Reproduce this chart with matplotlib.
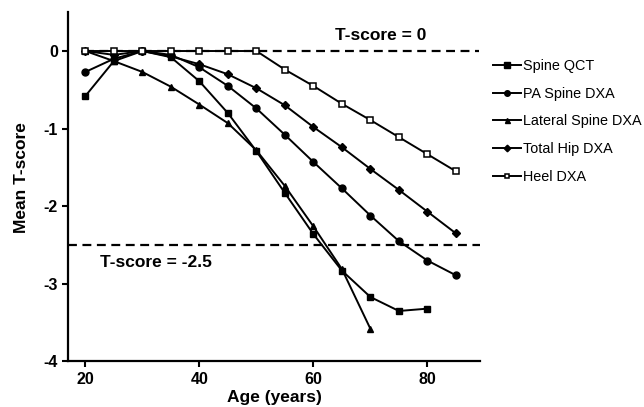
import numpy as np
import matplotlib.pyplot as plt

plt.rcParams['font.family'] = ['Liberation Sans', 'DejaVu Sans']

ages = [20, 25, 30, 35, 40, 45, 50, 55, 60, 65, 70, 75, 80, 85]

spine_qct = [-0.58, -0.13, 0.0, -0.08, -0.39, -0.80, -1.29, -1.83, -2.36, -2.83, -3.17, -3.35, -3.32]
pa_spine = [-0.27, -0.10, 0.0, -0.05, -0.21, -0.45, -0.74, -1.08, -1.43, -1.77, -2.12, -2.45, -2.70, -2.89]
lat_spine = [0.0, -0.13, -0.27, -0.46, -0.69, -0.93, -1.28, -1.74, -2.26, -2.81, -3.58]
total_hip = [0.0, -0.05, 0.0, -0.07, -0.17, -0.30, -0.48, -0.70, -0.98, -1.24, -1.52, -1.79, -2.07, -2.35]
heel = [0.0, 0.0, 0.0, 0.0, 0.0, 0.0, 0.0, -0.24, -0.45, -0.68, -0.89, -1.11, -1.33, -1.55]

fig = plt.figure(figsize=(6.44, 4.07), dpi=100)
ax = fig.add_axes([0.106, 0.112, 0.64, 0.858])

ax.hlines(0, 20, 89, colors='black', linestyles=(0, (4, 2.5)), linewidth=1.6, zorder=1)
ax.axhline(-2.5, color='black', linestyle=(0, (4, 2.5)), linewidth=1.6, zorder=1)

lw = 1.4
ax.plot(ages[:len(spine_qct)], spine_qct, color='black', linewidth=lw, marker='s', markersize=5,
        label='Spine QCT')
ax.plot(ages[:len(pa_spine)], pa_spine, color='black', linewidth=lw, marker='o', markersize=5,
        label='PA Spine DXA')
ax.plot(ages[:len(lat_spine)], lat_spine, color='black', linewidth=lw, marker='^', markersize=4.5,
        label='Lateral Spine DXA')
ax.plot(ages[:len(total_hip)], total_hip, color='black', linewidth=lw, marker='D', markersize=4.2,
        label='Total Hip DXA')
ax.plot(ages[:len(heel)], heel, color='black', linewidth=lw, marker='s', markersize=4.2,
        markerfacecolor='white', markeredgewidth=1.1, label='Heel DXA')

ax.text(71.8, 0.1, 'T-score = 0', fontsize=12.5, fontweight='bold', ha='center', va='bottom')
ax.text(22.6, -2.63, 'T-score = -2.5', fontsize=12.5, fontweight='bold', ha='left', va='top')

ax.set_xlim(17, 89.3)
ax.set_ylim(-4, 0.5)
ax.set_xticks([20, 40, 60, 80])
ax.set_yticks([0, -1, -2, -3, -4])
ax.set_yticklabels(['0', '-1', '-2', '-3', '-4'])
ax.tick_params(labelsize=11.5, width=1.5, length=4)
for lab in ax.get_xticklabels() + ax.get_yticklabels():
    lab.set_fontweight('bold')

ax.spines['top'].set_visible(False)
ax.spines['right'].set_visible(False)
ax.spines['left'].set_linewidth(1.6)
ax.spines['bottom'].set_linewidth(1.6)

ax.set_xlabel('Age (years)', fontsize=12.5, fontweight='bold', labelpad=2)
ax.set_ylabel('Mean T-score', fontsize=12.5, fontweight='bold', labelpad=6)
ax.yaxis.set_label_coords(-0.095, 0.527)

ax.legend(loc='upper left', bbox_to_anchor=(0.746, 0.887), bbox_transform=fig.transFigure,
          frameon=False, fontsize=10.4, handlelength=1.9, handletextpad=0.15,
          labelspacing=0.95, markerscale=0.8)

fig.savefig('out.png', dpi=100)
